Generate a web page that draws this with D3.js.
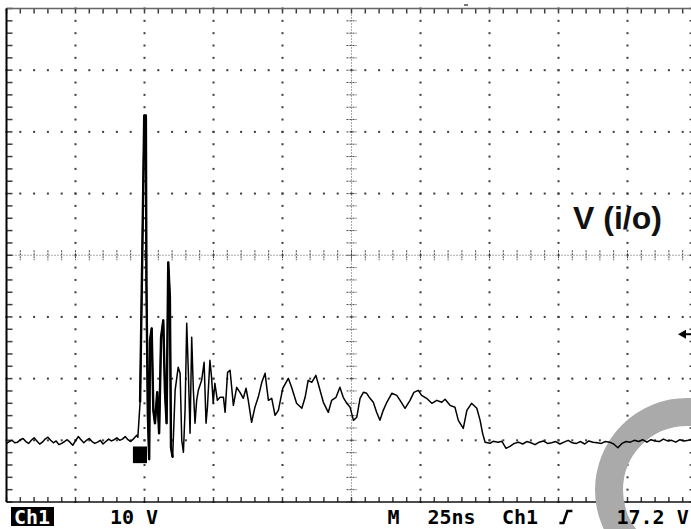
<!DOCTYPE html>
<html>
<head>
<meta charset="utf-8">
<script src="https://cdn.jsdelivr.net/npm/d3@7/dist/d3.min.js"></script>
<style>
  html, body { margin: 0; padding: 0; background: #ffffff; }
  svg { display: block; }
</style>
</head>
<body>
<svg id="scope" width="691" height="529"></svg>
<script>
// ---- Channel 1 capture: time in ns from left edge of screen, amplitude in volts ----
const preTriggerNs = [0, 1, 2, 3, 4, 5, 6, 7, 8, 9, 10, 11, 12, 13, 14, 15, 16, 17, 18, 19,
  20, 21, 22, 23, 24, 25, 26, 27, 28, 29, 30, 31, 32, 33, 34, 35, 36, 37, 38, 39, 40, 41, 42, 43, 44, 45];
const preTriggerV = [-0.5, -0.2, 0.0, -0.4, -0.3, 0.1, 0.3, -0.2, -0.5, 0.0,
  0.4, -0.1, -0.6, -0.3, 0.2, 0.5, 0.0, -0.4, -0.1, -0.7,
  -0.5, -0.2, 0.1, -0.3, -0.8, -0.1, 0.6, 0.1, -0.4, 0.0,
  0.3, -0.2, -0.5, -0.3, 0.0, -0.6, -0.2, 0.2, -0.1, 0.1,
  0.4, 0.0, 0.2, 0.6, 0.1, -0.2];

const ringingNs = [46.2, 47.2, 47.6, 48.4, 49.2, 49.9, 50.5, 50.7, 51.2, 51.7, 52.0, 52.6, 53.2, 53.8,
  54.6, 55.3, 56.0, 56.8, 57.4, 58.0, 58.6, 59.2, 59.6, 60.2, 61.1, 62.2, 62.9, 63.5, 64.1, 64.7,
  65.3, 65.9, 66.5, 67.1, 67.7, 68.3, 68.9, 69.5, 70.7, 71.6, 72.3, 72.8, 73.7, 74.3, 74.9, 75.5,
  76.4, 77.4, 78.6, 79.2, 80.1];
const ringingV = [0.32, 0.81, 0.49, 6.16, 30.31, 52.67, 52.67, 25.45, 4.38, -3.08, 16.21, 18.15, 4.86, 2.76,
  7.78, 1.13, 16.69, 19.45, 8.10, 2.76, 28.85, 23.18, -1.13, -2.76, 8.10, 11.83, 10.86, 0.0, -1.94, 4.86,
  18.96, 10.86, 1.13, 16.69, 8.10, 2.76, 6.48, 8.10, 9.72, 12.64, 2.76, 5.35, 12.97, 10.21, 6.00, 9.24,
  6.48, 6.97, 6.97, 4.54, 11.02];

const plateauNs = [81.0, 82.2, 83.4, 84.6, 85.8, 86.8, 87.6, 88.8, 90.0, 91.2, 92.5, 93.7, 94.3, 94.9,
  96.1, 97.3, 98.5, 100.1, 102.1, 103.3, 105.1, 107.0, 108.2, 109.3, 110.6, 112.1, 113.3, 114.8,
  116.6, 117.8, 119.4, 120.8, 122.0, 123.3, 124.5, 125.7, 126.9, 128.1, 129.3, 130.5, 131.7, 132.9,
  134.1, 135.3, 136.5, 137.8, 139.6, 141.4, 142.6, 144.4, 146.2, 147.6, 149.2, 150.4, 152.2, 154.1,
  155.9, 157.7, 158.9, 160.7, 162.5, 163.7, 165.5, 166.8, 168.5, 170.4, 171.6, 172.5, 173.4, 175.2,
  176.3, 178.1, 179.5, 181.0, 182.4];
const plateauV = [11.35, 5.67, 8.59, 7.78, 6.81, 8.43, 6.48, 2.92, 5.35, 6.97, 9.40, 10.86, 8.59, 6.48,
  6.81, 4.05, 4.86, 8.43, 10.05, 8.59, 6.00, 5.19, 6.97, 9.72, 9.40, 10.53, 8.59, 6.16,
  4.54, 6.48, 6.97, 8.59, 6.97, 6.00, 5.35, 3.24, 3.73, 6.81, 7.78, 7.62, 6.81, 6.16,
  4.54, 3.24, 4.86, 6.16, 7.62, 7.29, 6.48, 5.19, 6.48, 7.78, 8.10, 7.29, 6.81, 6.00,
  6.48, 6.16, 6.65, 5.67, 5.35, 3.24, 1.94, 4.86, 6.00, 5.19, 3.24, 1.13, -0.32, -0.49,
  -0.16, -0.32, -0.16, -1.30, -0.97];

const settledNs = [184, 185.5, 187, 188.5, 190, 191.5, 193, 194.5, 196, 197.5, 199, 200.5, 202, 203.5,
  205, 206.5, 208, 209.5, 211, 212.5, 214, 215.5, 217, 218.5, 220, 221.5, 223, 224.5, 226, 227.5,
  229, 230.5, 232, 233.5, 235, 236.5, 238, 239.5, 241, 242.5, 244, 245.5, 247, 248.5];
const settledV = [-0.5, -0.3, -0.6, -0.2, -0.4, -0.7, -0.3, -0.1, -0.5, -0.4, -0.2, -0.6, -0.3, 0.0,
  -0.4, -0.5, -0.2, -0.6, -0.1, -0.3, -0.4, -0.5, -0.2, -0.3, -0.6, -1.2, -0.5, -0.2, -0.3, 0.0,
  -0.2, 0.1, -0.3, 0.1, -0.1, -0.2, 0.2, -0.1, 0.0, -0.3, 0.1, -0.1, 0.0, 0.2];

// ---- Scope settings shown in the readout ----
const voltsPerDiv = 10;        // V / div
const timePerDivNs = 25;       // ns / div
const triggerLevelV = 17.2;    // trigger level, V
const traceLabel = "V (i/o)";
const readout = [
  { text: "10 V",   t: 37.5 },
  { text: "M",      t: 138 },
  { text: "25ns",   t: 152.5 },
  { text: "Ch1",    t: 179.5 },
  { text: "17.2 V", t: 221 }
];
const triggerSlopeT = 202.5;
const triggerPosT = 166.5;
const groundMarker = { t0: 45.8, t1: 50.9, v0: -1.0, v1: -3.7 };

// ---- Layout ----
const divsX = 10, divsY = 8, minorPerDiv = 5;
const x = d3.scaleLinear().domain([0, divsX * timePerDivNs]).range([6.5, 696.5]);
const y = d3.scaleLinear().domain([-1 * voltsPerDiv, 7 * voltsPerDiv]).range([502, 8.5]);
const [t0, t1] = x.domain(), [v0, v1] = y.domain();
const tc = (t0 + t1) / 2, vc = (v0 + v1) / 2;

const majorT = d3.range(divsX + 1).map(i => t0 + i * timePerDivNs);
const majorV = d3.range(divsY + 1).map(i => v0 + i * voltsPerDiv);
const minorT = d3.range(divsX * minorPerDiv + 1).map(i => t0 + i * timePerDivNs / minorPerDiv);
const minorV = d3.range(divsY * minorPerDiv + 1).map(i => v0 + i * voltsPerDiv / minorPerDiv);

const svg = d3.select("#scope");
const dotColor = "#3c3c3c";

// ---- Graticule ----
const grid = svg.append("g").attr("class", "graticule");

// dotted major division lines
const innerT = majorT.filter(t => t > t0 && t < t1 && t !== tc);
const innerV = majorV.filter(v => v > v0 && v < v1 && v !== vc);
grid.selectAll("rect.vdot")
  .data(d3.cross(innerT, minorV))
  .join("rect").attr("class", "vdot")
  .attr("x", d => x(d[0]) - 1).attr("y", d => y(d[1]) - 1)
  .attr("width", 2).attr("height", 2).attr("fill", dotColor);
grid.selectAll("rect.hdot")
  .data(d3.cross(minorT, innerV))
  .join("rect").attr("class", "hdot")
  .attr("x", d => x(d[0]) - 1).attr("y", d => y(d[1]) - 1)
  .attr("width", 2).attr("height", 2).attr("fill", dotColor);

// centre axes: fine dotted line with cross ticks at every minor division
grid.append("line")
  .attr("x1", x(tc)).attr("x2", x(tc)).attr("y1", y(v1)).attr("y2", y(v0))
  .attr("stroke", "#555").attr("stroke-width", 1).attr("stroke-dasharray", "1,2");
grid.append("line")
  .attr("x1", x(t0)).attr("x2", x(t1)).attr("y1", y(vc)).attr("y2", y(vc))
  .attr("stroke", "#555").attr("stroke-width", 1).attr("stroke-dasharray", "1,2");
grid.selectAll("line.cty")
  .data(minorV).join("line").attr("class", "cty")
  .attr("x1", x(tc) - 5).attr("x2", x(tc) + 5)
  .attr("y1", d => y(d)).attr("y2", d => y(d))
  .attr("stroke", "#444").attr("stroke-width", 1).attr("stroke-dasharray", "2,1");
grid.selectAll("line.ctx")
  .data(minorT).join("line").attr("class", "ctx")
  .attr("x1", d => x(d)).attr("x2", d => x(d))
  .attr("y1", y(vc) - 5).attr("y2", y(vc) + 5)
  .attr("stroke", "#444").attr("stroke-width", 1).attr("stroke-dasharray", "2,1");

// edge ticks
grid.selectAll("line.lt").data(minorV).join("line").attr("class", "lt")
  .attr("x1", x(t0)).attr("x2", x(t0) + 6).attr("y1", d => y(d)).attr("y2", d => y(d))
  .attr("stroke", dotColor).attr("stroke-width", 1.5);
grid.selectAll("line.rt").data(minorV).join("line").attr("class", "rt")
  .attr("x1", x(t1) - 7).attr("x2", x(t1)).attr("y1", d => y(d)).attr("y2", d => y(d))
  .attr("stroke", dotColor).attr("stroke-width", 1.5);
grid.selectAll("line.tt").data(minorT).join("line").attr("class", "tt")
  .attr("x1", d => x(d)).attr("x2", d => x(d)).attr("y1", y(v1)).attr("y2", y(v1) + 5)
  .attr("stroke", dotColor).attr("stroke-width", 1.5);
grid.selectAll("line.bt").data(minorT).join("line").attr("class", "bt")
  .attr("x1", d => x(d)).attr("x2", d => x(d)).attr("y1", y(v0) - 5).attr("y2", y(v0))
  .attr("stroke", dotColor).attr("stroke-width", 1.5);

// frame
grid.append("line").attr("x1", x(t0)).attr("x2", x(t1)).attr("y1", y(v1)).attr("y2", y(v1))
  .attr("stroke", "#666").attr("stroke-width", 1.5);
grid.append("line").attr("x1", x(t0)).attr("x2", x(t1)).attr("y1", y(v0)).attr("y2", y(v0))
  .attr("stroke", "#111").attr("stroke-width", 1.5);
grid.append("line").attr("x1", x(t0)).attr("x2", x(t0)).attr("y1", y(v1)).attr("y2", y(v0))
  .attr("stroke", "#000").attr("stroke-width", 2);

// trigger position marker above the frame
svg.append("rect").attr("x", x(triggerPosT) - 2).attr("y", y(v1) - 4.5)
  .attr("width", 4).attr("height", 2).attr("fill", "#777");

// ---- Grey ring overlay ----
svg.append("circle").attr("cx", 687).attr("cy", 490).attr("r", 78)
  .attr("fill", "none").attr("stroke", "#aaaaaa").attr("stroke-width", 28);

// ---- Ground marker ----
svg.append("rect")
  .attr("x", x(groundMarker.t0)).attr("y", y(groundMarker.v0))
  .attr("width", x(groundMarker.t1) - x(groundMarker.t0))
  .attr("height", y(groundMarker.v1) - y(groundMarker.v0))
  .attr("fill", "#000");

// ---- Trace ----
const toPts = (ts, vs) => ts.map((t, i) => ({ t, v: vs[i] }));
const trace = [].concat(
  toPts(preTriggerNs, preTriggerV),
  toPts(ringingNs, ringingV),
  toPts(plateauNs, plateauV),
  toPts(settledNs, settledV)
);
const line = d3.line().x(d => x(d.t)).y(d => y(d.v));
svg.append("path").datum(trace)
  .attr("d", line).attr("fill", "none")
  .attr("stroke", "#000").attr("stroke-width", 1.5).attr("stroke-linejoin", "round");
// persistence makes the first oscillations heavier
svg.append("path").datum(trace.filter(d => d.t >= 48 && d.t <= 61))
  .attr("d", line).attr("fill", "none")
  .attr("stroke", "#000").attr("stroke-width", 2.4).attr("stroke-linejoin", "round");

// trigger level arrow on the right
const ty = y(triggerLevelV);
svg.append("path")
  .attr("d", `M678,${ty} L686,${ty - 4.5} L686,${ty + 4.5} Z`).attr("fill", "#000");
svg.append("line").attr("x1", 686).attr("x2", 691).attr("y1", ty).attr("y2", ty)
  .attr("stroke", "#000").attr("stroke-width", 2);

// ---- Labels ----
svg.append("text")
  .attr("x", 573).attr("y", 229)
  .attr("font-family", "'Liberation Sans', Arial, sans-serif")
  .attr("font-weight", "bold").attr("font-size", 32).attr("fill", "#111")
  .text(traceLabel);

// readout bar
const mono = "'DejaVu Sans Mono', 'Liberation Mono', monospace";
svg.append("rect").attr("x", 11).attr("y", 507).attr("width", 43).attr("height", 19).attr("fill", "#000");
svg.append("text").attr("x", 14).attr("y", 524)
  .attr("font-family", mono).attr("font-weight", "bold").attr("font-size", 20)
  .attr("fill", "#fff").text("Ch1");
svg.selectAll("text.readout").data(readout).join("text").attr("class", "readout")
  .attr("x", d => x(d.t)).attr("y", 524)
  .attr("font-family", mono).attr("font-weight", "bold").attr("font-size", 20)
  .attr("fill", "#000").text(d => d.text);
// rising-edge slope symbol
const sx = x(triggerSlopeT);
svg.append("path")
  .attr("d", `M${sx - 6},523 L${sx - 2},523 L${sx + 2},511 L${sx + 7},511`)
  .attr("fill", "none").attr("stroke", "#000").attr("stroke-width", 2.5);
</script>
</body>
</html>
